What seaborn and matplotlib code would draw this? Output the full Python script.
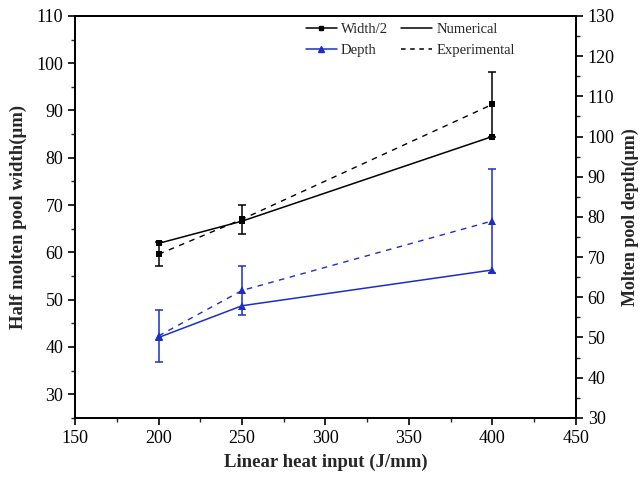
import matplotlib
matplotlib.use("Agg")
import matplotlib.pyplot as plt
from matplotlib.lines import Line2D
from matplotlib.ticker import MultipleLocator
import seaborn as sns
import pandas as pd

heat = [200, 250, 400]
width_num = [61.9, 66.6, 84.5]
width_exp = [59.6, 67.0, 91.3]
width_err = [2.5, 3.1, 6.8]
depth_num = [50.0, 57.9, 66.8]
depth_exp = [50.4, 61.7, 79.0]
depth_err = [6.5, 6.2, 13.0]

blue = "#1c2fc4"
sns.set_style("ticks")
plt.rcParams['font.family'] = ['Liberation Serif', 'DejaVu Serif']
plt.rcParams['mathtext.fontset'] = 'stix'

fig = plt.figure(figsize=(6.42, 4.82), dpi=100)
ax = fig.add_axes([0.117, 0.133, 0.780, 0.834])
ax2 = ax.twinx()

df_w = pd.DataFrame({"x": heat, "num": width_num, "exp": width_exp})
df_d = pd.DataFrame({"x": heat, "num": depth_num, "exp": depth_exp})

sns.lineplot(data=df_w, x="x", y="num", ax=ax, color="black", lw=1.1,
             marker="s", markersize=5, markeredgewidth=0)
sns.lineplot(data=df_w, x="x", y="exp", ax=ax, color="black", lw=1.0,
             linestyle=(0, (4, 4)), marker="s", markersize=5, markeredgewidth=0)
ax.errorbar(heat, width_exp, yerr=width_err, fmt="none", ecolor="black",
            elinewidth=1.1, capsize=3, capthick=1.1)

sns.lineplot(data=df_d, x="x", y="num", ax=ax2, color=blue, lw=1.1,
             marker="^", markersize=6, markeredgewidth=0)
sns.lineplot(data=df_d, x="x", y="exp", ax=ax2, color=blue, lw=1.0,
             linestyle=(0, (4, 4)), marker="^", markersize=6, markeredgewidth=0)
ax2.errorbar(heat, depth_exp, yerr=depth_err, fmt="none", ecolor=blue,
             elinewidth=1.1, capsize=3, capthick=1.1)

ax.set_xlim(150, 450)
ax.set_ylim(25, 110)
ax2.set_ylim(30, 130)
ax.xaxis.set_major_locator(MultipleLocator(50))
ax.xaxis.set_minor_locator(MultipleLocator(25))
ax.yaxis.set_major_locator(MultipleLocator(10))
ax.yaxis.set_minor_locator(MultipleLocator(5))
ax.set_yticks(range(30, 111, 10))
ax2.yaxis.set_major_locator(MultipleLocator(10))
ax2.yaxis.set_minor_locator(MultipleLocator(5))

for a in (ax, ax2):
    for s in a.spines.values():
        s.set_visible(True)
        s.set_linewidth(1.3)
        s.set_color("black")
    a.tick_params(which="major", direction="out", length=5, width=1.2,
                  labelsize=13, colors="black")
    a.tick_params(which="minor", direction="out", length=3, width=1.0)
ax.tick_params(axis="y", which="both", right=False)
ax.tick_params(axis="x", which="both", top=False)

ax.set_xlabel("Linear heat input (J/mm)", fontsize=13.5, fontweight="bold", labelpad=5)
ax.set_ylabel("Half molten pool width(\u03bcm)", fontsize=13.5, fontweight="bold", labelpad=7)
ax2.set_ylabel("Molten pool depth(\u03bcm)", fontsize=13, fontweight="bold", labelpad=5)

handles = [
    Line2D([], [], color="black", lw=1.1, marker="s", markersize=3.5),
    Line2D([], [], color=blue, lw=1.1, marker="^", markersize=4),
    Line2D([], [], color="black", lw=1.1),
    Line2D([], [], color="black", lw=1.1, linestyle=(0, (3, 3))),
]
labels = ["Width/2", "Depth", "Numerical", "Experimental"]
ax.legend(handles, labels, ncol=2, frameon=False, fontsize=10.5,
          loc="upper left", bbox_to_anchor=(0.435, 1.015), handlelength=2.1,
          columnspacing=0.9, handletextpad=0.3, labelspacing=0.55)

fig.savefig("out.png", dpi=100)
